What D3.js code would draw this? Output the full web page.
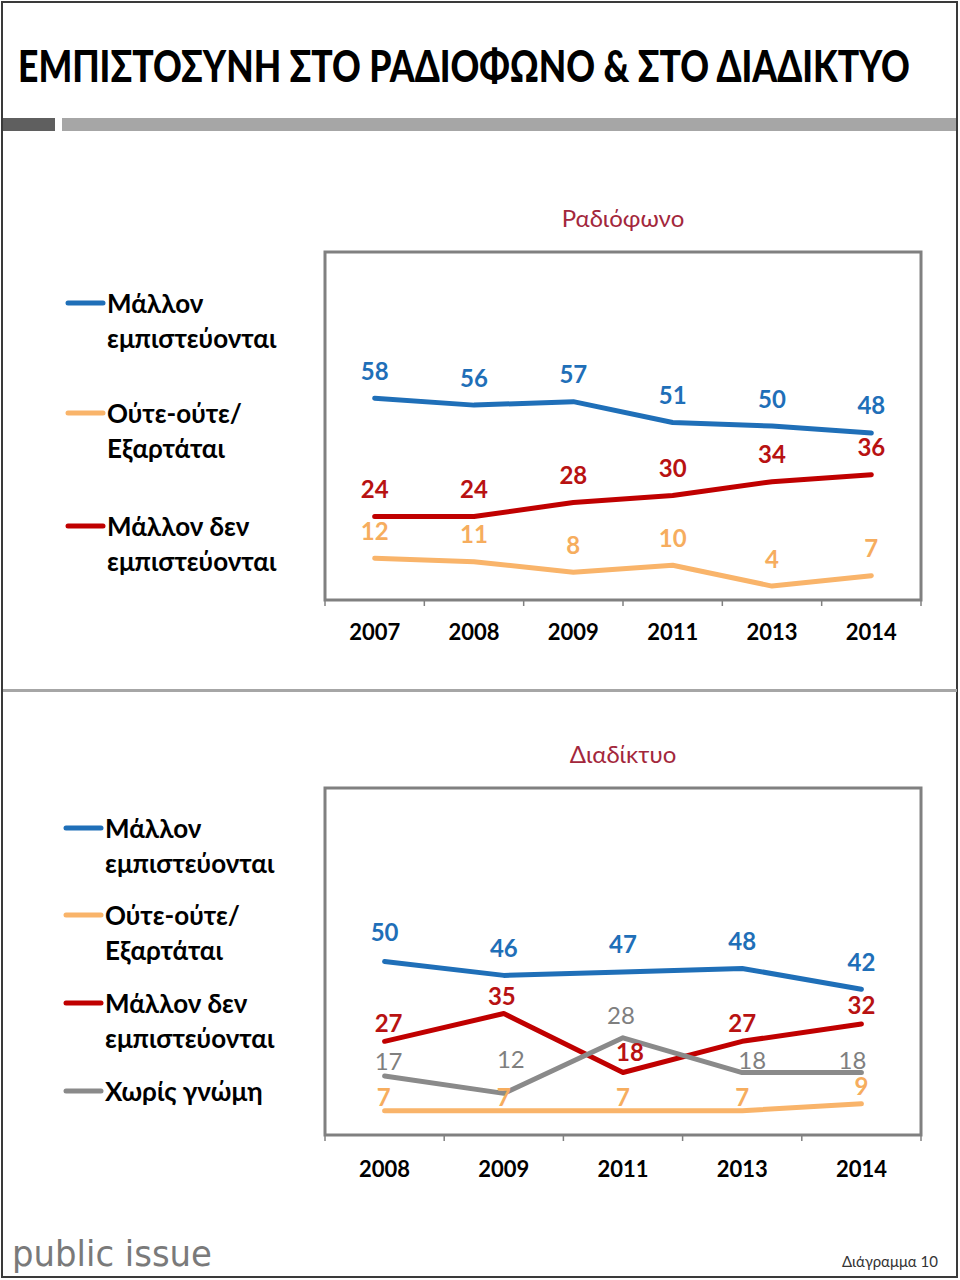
<!DOCTYPE html>
<html>
<head>
<meta charset="utf-8">
<script src="https://cdn.jsdelivr.net/npm/d3@7"></script>
<style>
  html, body { margin: 0; padding: 0; background: #fff; }
  svg { display: block; }
  text { font-family: Lato, Carlito, "Open Sans", sans-serif; }
</style>
</head>
<body>
<svg id="chart" width="960" height="1280"></svg>
<script>
// ---------- DATA ----------
const radioYears = ["2007", "2008", "2009", "2011", "2013", "2014"];
const radioTrust = [58, 56, 57, 51, 50, 48];
const radioNeither = [12, 11, 8, 10, 4, 7];
const radioDistrust = [24, 24, 28, 30, 34, 36];

const netYears = ["2008", "2009", "2011", "2013", "2014"];
const netTrust = [50, 46, 47, 48, 42];
const netNeither = [7, 7, 7, 7, 9];
const netDistrust = [27, 35, 18, 27, 32];
const netNoOpinion = [17, 12, 28, 18, 18];

const legendLines = [["Μάλλον", "εμπιστεύονται"], ["Ούτε-ούτε/", "Εξαρτάται"], ["Μάλλον δεν", "εμπιστεύονται"], ["Χωρίς γνώμη"]];
const mainTitle = "ΕΜΠΙΣΤΟΣΥΝΗ ΣΤΟ ΡΑΔΙΟΦΩΝΟ & ΣΤΟ ΔΙΑΔΙΚΤΥΟ";
const radioTitle = "Ραδιόφωνο";
const netTitle = "Διαδίκτυο";

// ---------- STYLE ----------
const colors = { trust: "#1f6fb8", neither: "#f9b46a", distrust: "#c00000", none: "#8a8a8a" };
const labelColors = { trust: "#1f6fb8", neither: "#f6ad5e", distrust: "#b81212", none: "#7f7f7f" };

const svg = d3.select("#chart");

// page frame
svg.append("rect").attr("x", 2).attr("y", 2).attr("width", 955).attr("height", 1275)
  .attr("fill", "none").attr("stroke", "#3a3a3a").attr("stroke-width", 2);

// title (condensed horizontally to the reference width)
const titleG = svg.append("g");
const titleT = titleG.append("text").attr("x", 0).attr("y", 0)
  .attr("font-size", 44).attr("font-weight", 900).attr("fill", "#000")
  .text(mainTitle);
const natW = titleT.node().getComputedTextLength();
const sx = Math.min(1, 892 / natW);
titleG.attr("transform", `translate(18,82) scale(${sx},1)`);

// title bars
svg.append("rect").attr("x", 3).attr("y", 118).attr("width", 52).attr("height", 13).attr("fill", "#5f5f5f");
svg.append("rect").attr("x", 62).attr("y", 118).attr("width", 894).attr("height", 13).attr("fill", "#a6a6a6");

// separator
svg.append("rect").attr("x", 3).attr("y", 689).attr("width", 954).attr("height", 3).attr("fill", "#a6a6a6");

// ---------- CHART BUILDER ----------
function drawChart(cfg) {
  const g = svg.append("g");
  const x = d3.scaleBand().domain(cfg.years).range([cfg.left, cfg.right]);
  const y = d3.scaleLinear().domain([0, 100]).range([cfg.bottom, cfg.top]);

  // plot frame
  g.append("rect").attr("x", cfg.left).attr("y", cfg.top)
    .attr("width", cfg.right - cfg.left).attr("height", cfg.bottom - cfg.top)
    .attr("fill", "#fff").attr("stroke", "#808080").attr("stroke-width", 3);

  // x axis
  const axis = d3.axisBottom(x).tickSize(0).tickPadding(0);
  const ax = g.append("g").attr("transform", `translate(0,${cfg.bottom})`).call(axis);
  ax.select(".domain").remove();
  ax.selectAll("text").attr("font-size", 22).attr("font-weight", "bold").attr("fill", "#000")
    .attr("dy", null).attr("y", cfg.tickLabelOffset).attr("dominant-baseline", "central")
    .style("font-family", "Lato, Carlito, sans-serif");
  // band boundary ticks
  const bounds = cfg.years.map(d => x(d)).concat([x(cfg.years[cfg.years.length - 1]) + x.bandwidth()]);
  g.selectAll(".btick").data(bounds).join("line")
    .attr("x1", d => d).attr("x2", d => d)
    .attr("y1", cfg.bottom).attr("y2", cfg.bottom + 6)
    .attr("stroke", "#808080").attr("stroke-width", 1.5);

  // title
  g.append("text").attr("x", (cfg.left + cfg.right) / 2).attr("y", cfg.titleY)
    .attr("text-anchor", "middle").attr("dominant-baseline", "central")
    .attr("font-size", 24).attr("fill", "#a3273c").text(cfg.title);

  const line = d3.line().x((d, i) => x(cfg.years[i]) + x.bandwidth() / 2).y(d => y(d));

  cfg.series.forEach(s => {
    g.append("path").datum(s.values).attr("d", line)
      .attr("fill", "none").attr("stroke", colors[s.key]).attr("stroke-width", 5)
      .attr("stroke-linejoin", "round").attr("stroke-linecap", "round");
  });
  cfg.series.forEach(s => {
    g.selectAll(null).data(s.values).join("text")
      .attr("x", (d, i) => x(cfg.years[i]) + x.bandwidth() / 2 + (s.dx ? s.dx[i] : 0))
      .attr("y", (d, i) => y(d) + (s.dy ? s.dy[i] : -28))
      .attr("text-anchor", "middle").attr("dominant-baseline", "central")
      .attr("font-size", 24).attr("font-weight", s.key === "none" ? "normal" : "bold")
      .attr("fill", labelColors[s.key]).text(d => d);
  });

  // legend
  cfg.legend.forEach(l => {
    g.append("line").attr("x1", cfg.legendX).attr("x2", cfg.legendX + 35)
      .attr("y1", l.y).attr("y2", l.y)
      .attr("stroke", colors[l.key]).attr("stroke-width", 5).attr("stroke-linecap", "round");
    const t = g.append("text").attr("x", cfg.legendX + 39).attr("y", l.y)
      .attr("dominant-baseline", "central").attr("font-size", 26).attr("font-weight", "bold").attr("fill", "#000");
    l.lines.forEach((ln, k) => {
      t.append("tspan").attr("x", cfg.legendX + 39).attr("dy", k === 0 ? 0 : 35).text(ln);
    });
  });
}

drawChart({
  years: radioYears, left: 325, right: 921, top: 252, bottom: 600,
  tickLabelOffset: 31, title: radioTitle, titleY: 217, legendX: 68,
  series: [
    { key: "trust", values: radioTrust },
    { key: "neither", values: radioNeither },
    { key: "distrust", values: radioDistrust }
  ],
  legend: [
    { key: "trust", y: 303, lines: legendLines[0] },
    { key: "neither", y: 413, lines: legendLines[1] },
    { key: "distrust", y: 526, lines: legendLines[2] }
  ]
});

drawChart({
  years: netYears, left: 325, right: 921, top: 788, bottom: 1135,
  tickLabelOffset: 33, title: netTitle, titleY: 753, legendX: 66,
  series: [
    { key: "trust", values: netTrust, dy: [-30, -28, -28, -28, -28] },
    { key: "neither", values: netNeither, dy: [-14, -14, -14, -14, -18], dx: [-1, 0, 0, 0, 0] },
    { key: "distrust", values: netDistrust, dy: [-19, -18, -21, -19, -19], dx: [4, -2, 7, 0, 0] },
    { key: "none", values: netNoOpinion, dy: [-16, -35, -23, -13, -13], dx: [4, 7, -2, 10, -9] }
  ],
  legend: [
    { key: "trust", y: 828, lines: legendLines[0] },
    { key: "neither", y: 915, lines: legendLines[1] },
    { key: "distrust", y: 1003, lines: legendLines[2] },
    { key: "none", y: 1091, lines: legendLines[3] }
  ]
});

// footer
svg.append("text").attr("x", 12).attr("y", 1266).attr("font-size", 36)
  .attr("fill", "#7a7a7a").attr("font-weight", "normal")
  .style("font-family", "'DejaVu Sans', sans-serif").attr("textLength", 200).attr("lengthAdjust", "spacingAndGlyphs")
  .text("public issue");
svg.append("text").attr("x", 938).attr("y", 1267).attr("text-anchor", "end")
  .attr("font-size", 15).attr("fill", "#333").text("Διάγραμμα 10");
</script>
</body>
</html>
